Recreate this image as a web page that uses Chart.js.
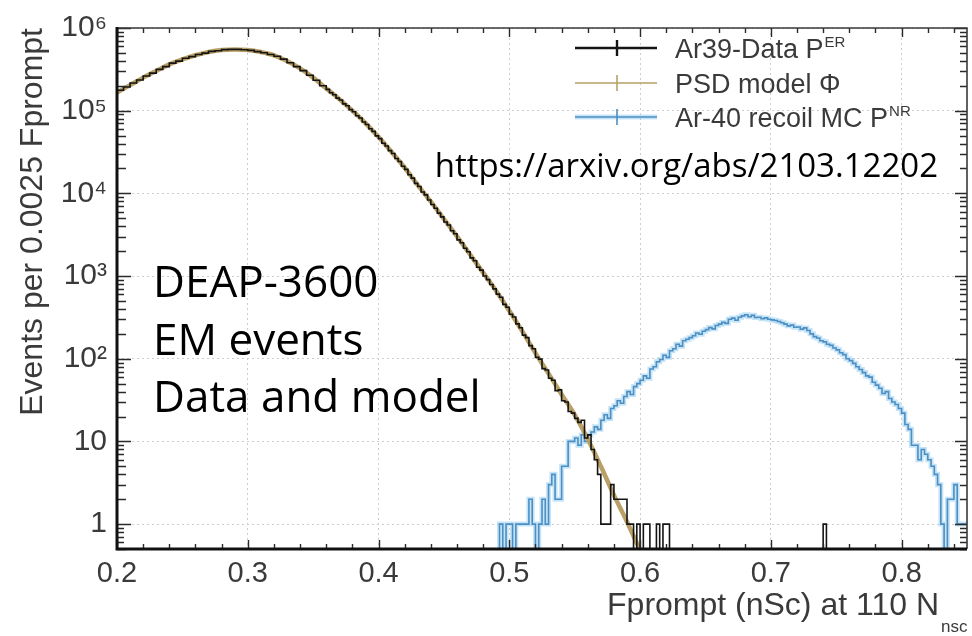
<!DOCTYPE html>
<html><head><meta charset="utf-8">
<script src="https://cdn.jsdelivr.net/npm/chart.js@4.4.1/dist/chart.umd.min.js"></script>
<style>html,body{margin:0;padding:0;background:#fff;}#wrap{width:972px;height:636px;}</style>
</head><body><div id="wrap"><canvas id="c" width="972" height="636"></canvas></div>
<script>
// ---------------- DATA ----------------
const BIN = 0.0025;
const X_MIN = 0.2, X_MAX = 0.85, Y_MIN = 0.5, Y_MAX = 1e6;
const xTickValues = [0.2, 0.3, 0.4, 0.5, 0.6, 0.7, 0.8];
const yTickValues = [1, 10, 100, 1000, 10000, 100000, 1000000];
const yTickLabels = ['1', '10', '10²', '10³', '10⁴', '10⁵', '10⁶'];

// Ar39 data (black): coarse part, one value per 0.005 starting at 0.200 (events per 0.0025)
const erCoarseStart = 0.2, erCoarseStep = 0.005;
const erCoarse = [
  177000,193000,216000,235000,263000,285000,316000,341000,
  376000,398000,430000,451000,479000,497000,521000,530000,
  548000,551000,551000,545000,537000,518000,503000,478000,
  455000,420000,380000,341000,305000,268000,233000,200000
];
// Ar39 data (black): fine part, per 0.0025 bin starting at 0.360
const erFineStart = 0.36;
const erFine = [
  181000,165000,156000,142000,134500,121000,114500,103000,
  97000,87000,81500,73000,68200,60400,56200,49600,
  45900,40400,37400,32900,30300,26400,24300,21300,
  19500,16800,15300,13200,12100,10400,9600,8300,
  7350,6600,5770,5200,4510,4140,3530,3250,
  2740,2530,2170,1970,1660,1530,1280,1180,
  1000,905,790,700,605,555,455,420,
  345,320,264,237,193,180,144,132,
  104,99,76,73,58,55,41,42,
  31,30,23,22,19,17,18,11,
  12,8,6,4,1,1,1,3,
  2,2,2,2,1,1,0,1,
  0,1,1,0,0,1,0,1,
  1,0
];
const erIsolatedX = [0.74];
const erIsolatedY = [1];

// PSD model (tan curve)
const modelX = [0.20,0.21,0.22,0.23,0.24,0.25,0.26,0.27,0.28,0.29,0.30,0.31,0.32,0.33,0.34,0.35,0.36,0.37,0.38,0.39,
                0.40,0.41,0.42,0.43,0.44,0.45,0.46,0.47,0.48,0.49,0.50,0.51,0.52,0.53,0.54,0.55,0.56,0.57,0.58,0.59,0.60];
const modelY = [166000,204000,251000,302000,363000,417000,468000,513000,543000,550000,
                543000,513000,468000,398000,324000,251000,186000,138000,100000,70800,
                47900,31600,20400,12600,7940,4900,3020,1820,1100,661,
                380,214,117,66,37,21,10.7,5.0,2.24,1.07,0.48];

// Ar-40 recoil MC (blue): per 0.0025 bin starting at 0.490
const mcStart = 0.49;
const mcCounts = [
  0,1,0,1,1,0,1,1,
  1,1,2,1,0,1,2,1,
  3,4,2,2,5,5,10,10,
  11,9,12,10,12,13,15,14,
  18,21,19,25,27,31,29,35,
  40,37,46,50,55,62,58,75,
  80,92,98,110,104,125,132,150,
  142,165,172,180,190,205,198,215,
  225,238,230,252,262,275,268,300,
  310,292,318,330,340,322,335,315,
  318,305,312,300,295,290,282,272,
  262,250,255,240,242,228,236,220,
  200,185,178,165,160,150,145,135,
  128,118,112,100,95,88,80,74,
  68,62,60,52,48,44,38,40,
  33,30,28,25,22,16,14,9,
  9,6,8,7,6,5,4,3,
  1,0,2,2,3,1,1,1
];

const legendLabels = ['Ar39-Data P', 'PSD model Φ', 'Ar-40 recoil MC P'];
const legendSups = ['ER', '', 'NR'];
const xTitle = 'Fprompt (nSc) at 110 N';
const xTitleSub = 'nsc';
const yTitle = 'Events per 0.0025 Fprompt';
const noteLines = ['DEAP-3600', 'EM events', 'Data and model'];
const noteUrl = 'https://arxiv.org/abs/2103.12202';

// ---------------- BUILD ----------------
const FLOOR = 0.3; // empty bins drawn below the axis (clipped)
const erPts = [];
erCoarse.forEach((v, i) => erPts.push({x: +(erCoarseStart + i * erCoarseStep).toFixed(4), y: v > 0 ? v : FLOOR}));
erFine.forEach((v, i) => erPts.push({x: +(erFineStart + i * BIN).toFixed(4), y: v > 0 ? v : FLOOR}));
erIsolatedX.forEach((x, i) => { erPts.push({x: x, y: erIsolatedY[i]}); erPts.push({x: +(x + BIN).toFixed(4), y: FLOOR}); });

const modelPts = modelX.map((x, i) => ({x: x, y: modelY[i]}));

const mcPts = mcCounts.map((v, i) => ({x: +(mcStart + i * BIN).toFixed(4), y: v > 0 ? v : FLOOR}));
mcPts.push({x: +(mcStart + mcCounts.length * BIN).toFixed(4), y: mcCounts[mcCounts.length - 1]});

const FONT = "'Liberation Sans', Arial, Helvetica, sans-serif";
const NOTE_FONT = "'Open Sans', 'Noto Sans', sans-serif";
const TXT = '#3a3a3a';
Chart.defaults.font.family = FONT;

const BLACK = '#141414', TAN = '#b9a066', BLUE = '#4d8fc2', HALO = 'rgba(150,205,240,0.55)';

const overlay = {
  id: 'overlay',
  afterDraw(chart) {
    const {ctx, chartArea: a, scales} = chart;
    const xs = scales.x, ys = scales.y;
    ctx.save();
    // inward tick marks on all four sides
    ctx.strokeStyle = '#2a2a2a';
    ctx.lineWidth = 1.4;
    ctx.beginPath();
    for (let k = 0; k <= 32; k++) {
      const v = X_MIN + k * 0.02;
      if (v > X_MAX + 1e-9) break;
      const px = Math.round(xs.getPixelForValue(v)) + 0.5;
      const L = (k % 5 === 0) ? 9 : 5;
      ctx.moveTo(px, a.bottom); ctx.lineTo(px, a.bottom - L);
      ctx.moveTo(px, a.top); ctx.lineTo(px, a.top + L);
    }
    for (let e = -1; e <= 6; e++) {
      for (let m = 1; m <= 9; m++) {
        const v = m * Math.pow(10, e);
        if (v < Y_MIN || v > Y_MAX) continue;
        const py = Math.round(ys.getPixelForValue(v)) + 0.5;
        const L = m === 1 ? 14 : (m <= 5 ? 9 : 7);
        ctx.moveTo(a.left, py); ctx.lineTo(a.left + L, py);
        ctx.moveTo(a.right, py); ctx.lineTo(a.right - (m === 1 ? 12 : 7), py);
      }
    }
    ctx.stroke();
    // frame
    ctx.lineWidth = 1.6; ctx.strokeStyle = '#3a3a3a';
    ctx.beginPath();
    ctx.moveTo(a.left, a.top); ctx.lineTo(a.right, a.top); ctx.lineTo(a.right, a.bottom);
    ctx.stroke();
    ctx.lineWidth = 3; ctx.strokeStyle = '#111';
    ctx.beginPath();
    ctx.moveTo(a.left, a.top - 1); ctx.lineTo(a.left, a.bottom); ctx.lineTo(a.right, a.bottom);
    ctx.stroke();

    // legend
    const rows = [48, 83, 117];
    const styles = [{c: BLACK, w: 2.4}, {c: TAN, w: 1.6}, {c: BLUE, w: 1.6, halo: true}];
    rows.forEach((ry, i) => {
      const s = styles[i];
      if (s.halo) {
        ctx.strokeStyle = HALO; ctx.lineWidth = 5;
        ctx.beginPath(); ctx.moveTo(575, ry); ctx.lineTo(657, ry); ctx.stroke();
      }
      ctx.strokeStyle = s.c; ctx.lineWidth = s.w;
      ctx.beginPath();
      ctx.moveTo(575, ry); ctx.lineTo(657, ry);
      ctx.moveTo(617, ry - 8); ctx.lineTo(617, ry + 8);
      ctx.stroke();
      ctx.fillStyle = TXT;
      ctx.font = '27px ' + FONT;
      ctx.textAlign = 'left'; ctx.textBaseline = 'alphabetic';
      ctx.fillText(legendLabels[i], 675, ry + 10);
      if (legendSups[i]) {
        const w = ctx.measureText(legendLabels[i]).width;
        ctx.font = '15px ' + FONT;
        ctx.fillText(legendSups[i], 675 + w + 1, ry - 1);
      }
    });

    // x title with subscript
    ctx.fillStyle = TXT;
    ctx.font = '32px ' + FONT;
    ctx.textAlign = 'right'; ctx.textBaseline = 'alphabetic';
    ctx.fillText(xTitle, 939, 615);
    ctx.font = '17px ' + FONT;
    ctx.textAlign = 'left';
    ctx.fillText(xTitleSub, 941, 632);

    // annotations
    ctx.fillStyle = '#000';
    ctx.font = '44px ' + NOTE_FONT;
    ctx.textAlign = 'left';
    const base = [297, 355, 412];
    noteLines.forEach((t, i) => ctx.fillText(t, 153, base[i]));
    ctx.font = '33px ' + NOTE_FONT;
    ctx.textAlign = 'right';
    ctx.fillText(noteUrl, 938, 177);
    ctx.restore();
  }
};

new Chart(document.getElementById('c'), {
  type: 'line',
  data: {
    datasets: [
      {label: 'mc-halo', data: mcPts, borderColor: HALO, borderWidth: 5, stepped: 'before', pointRadius: 0, order: 5, clip: 0, fill: false},
      {label: 'Ar-40 recoil MC', data: mcPts, borderColor: BLUE, borderWidth: 1.6, stepped: 'before', pointRadius: 0, order: 4, clip: 0, fill: false},
      {label: 'PSD model', data: modelPts, borderColor: TAN, borderWidth: 4.5, cubicInterpolationMode: 'monotone', pointRadius: 0, order: 3, clip: 0, fill: false},
      {label: 'Ar39-Data', data: erPts, borderColor: BLACK, borderWidth: 1.6, stepped: 'before', pointRadius: 0, order: 1, clip: 0, fill: false}
    ]
  },
  options: {
    responsive: false,
    animation: false,
    devicePixelRatio: 1,
    events: [],
    layout: {padding: {left: 0, right: 5, top: 16, bottom: 0}},
    plugins: {legend: {display: false}, tooltip: {enabled: false}},
    scales: {
      x: {
        type: 'linear', min: X_MIN, max: X_MAX,
        afterBuildTicks: s => { s.ticks = xTickValues.map(v => ({value: v})); },
        afterFit: s => { s.height = 87; },
        ticks: {callback: v => Number(v).toFixed(1), font: {size: 29, family: FONT}, color: TXT, padding: 8, maxRotation: 0, autoSkip: false},
        grid: {color: '#cdcdcd', lineWidth: 1, drawTicks: false},
        border: {display: false, dash: [2, 3]}
      },
      y: {
        type: 'logarithmic', min: Y_MIN, max: Y_MAX,
        afterBuildTicks: s => { s.ticks = yTickValues.map(v => ({value: v})); },
        afterFit: s => { s.width = 117; },
        ticks: {callback: v => { const i = yTickValues.indexOf(v); return i >= 0 ? yTickLabels[i] : ''; }, font: {size: 30, family: FONT}, color: TXT, padding: 10, autoSkip: false},
        title: {display: true, text: yTitle, align: 'end', color: TXT, font: {size: 32, family: FONT}, padding: {top: 14, bottom: 0}},
        grid: {color: '#cdcdcd', lineWidth: 1, drawTicks: false},
        border: {display: false, dash: [2, 3]}
      }
    }
  },
  plugins: [overlay]
});
</script></body></html>
